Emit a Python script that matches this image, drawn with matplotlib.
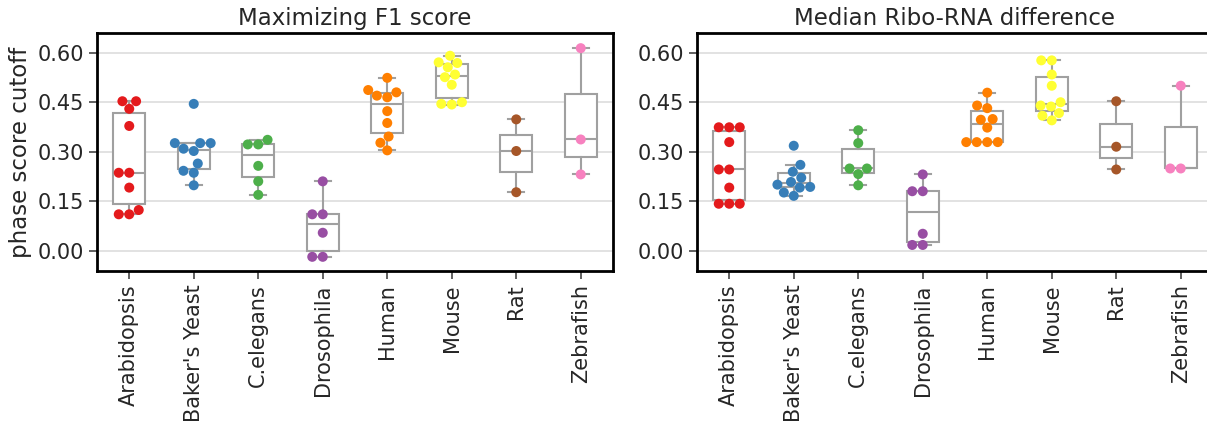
import numpy as np
import pandas as pd
import matplotlib
matplotlib.use("Agg")
import matplotlib.pyplot as plt
import seaborn as sns

species = ["Arabidopsis", "Baker's Yeast", "C.elegans", "Drosophila",
           "Human", "Mouse", "Rat", "Zebrafish"]
palette = ["#e41a1c", "#377eb8", "#4daf4a", "#984ea3",
           "#ff7f00", "#ffff33", "#a65628", "#f781bf"]

# cutoffs maximizing F1 score
f1_arabidopsis = [0.453, 0.453, 0.430, 0.378, 0.236, 0.236, 0.191, 0.123, 0.110, 0.110]
f1_yeast = [0.445, 0.326, 0.326, 0.326, 0.309, 0.302, 0.264, 0.242, 0.236, 0.198]
f1_celegans = [0.336, 0.322, 0.322, 0.257, 0.210, 0.169]
f1_drosophila = [0.210, 0.110, 0.110, 0.054, -0.019, -0.019]
f1_human = [0.524, 0.487, 0.480, 0.470, 0.465, 0.423, 0.387, 0.346, 0.327, 0.304]
f1_mouse = [0.591, 0.571, 0.569, 0.556, 0.534, 0.526, 0.503, 0.450, 0.445, 0.443]
f1_rat = [0.398, 0.302, 0.177]
f1_zebrafish = [0.614, 0.337, 0.231]

# cutoffs from median Ribo-RNA difference
med_arabidopsis = [0.374, 0.374, 0.374, 0.329, 0.246, 0.246, 0.191, 0.142, 0.142, 0.142]
med_yeast = [0.318, 0.260, 0.239, 0.221, 0.208, 0.200, 0.193, 0.191, 0.176, 0.166]
med_celegans = [0.365, 0.326, 0.249, 0.249, 0.232, 0.198]
med_drosophila = [0.231, 0.180, 0.180, 0.051, 0.017, 0.017]
med_human = [0.479, 0.440, 0.432, 0.399, 0.397, 0.373, 0.329, 0.329, 0.329, 0.329]
med_mouse = [0.577, 0.577, 0.534, 0.500, 0.450, 0.440, 0.437, 0.417, 0.409, 0.395]
med_rat = [0.453, 0.315, 0.246]
med_zebrafish = [0.500, 0.249, 0.249]

f1_data = [f1_arabidopsis, f1_yeast, f1_celegans, f1_drosophila,
           f1_human, f1_mouse, f1_rat, f1_zebrafish]
med_data = [med_arabidopsis, med_yeast, med_celegans, med_drosophila,
            med_human, med_mouse, med_rat, med_zebrafish]

plt.rcParams['font.family'] = ['DejaVu Sans']
text_col = '.15'

fig = plt.figure(figsize=(12.07, 4.34), dpi=100)
ax1 = fig.add_axes([97 / 1207, 163 / 434, 516 / 1207, 238 / 434])
ax2 = fig.add_axes([697 / 1207, 163 / 434, 516 / 1207, 238 / 434])


def draw_panel(ax, data, title):
    ax.boxplot(data, positions=range(len(species)), widths=0.5,
               patch_artist=True, showfliers=False, whis=1.5,
               boxprops=dict(facecolor='white', edgecolor='#a0a0a0', linewidth=1.5),
               medianprops=dict(color='#a0a0a0', linewidth=1.5),
               whiskerprops=dict(color='#a0a0a0', linewidth=1.5),
               capprops=dict(color='#a0a0a0', linewidth=1.5),
               zorder=2)
    df = pd.DataFrame({
        'species': [s for s, v in zip(species, data) for _ in v],
        'cutoff': [x for v in data for x in v],
    })
    sns.swarmplot(data=df, x='species', y='cutoff', hue='species',
                  order=species, hue_order=species, palette=palette,
                  size=7.2, ax=ax, legend=False, zorder=3)
    ax.set_xlim(-0.5, 7.5)
    ax.set_ylim(-0.062, 0.66)
    ax.set_yticks([0.0, 0.15, 0.30, 0.45, 0.60])
    ax.set_yticklabels(['0.00', '0.15', '0.30', '0.45', '0.60'])
    ax.set_xticks(range(len(species)))
    ax.set_xticklabels(species, rotation=90)
    ax.yaxis.grid(True, color='#dddddd', linewidth=1.2, zorder=0)
    ax.set_axisbelow(True)
    ax.xaxis.grid(False)
    for sp in ax.spines.values():
        sp.set_linewidth(2)
        sp.set_color('black')
    ax.tick_params(axis='both', labelsize=15, length=6, width=1.25,
                   color='.3', labelcolor=text_col)
    ax.set_xlabel('')
    ax.set_ylabel('')
    ax.set_title(title, fontsize=16.5, color=text_col)


draw_panel(ax1, f1_data, 'Maximizing F1 score')
draw_panel(ax2, med_data, 'Median Ribo-RNA difference')
ax1.set_ylabel('phase score cutoff', fontsize=16.5, color=text_col, labelpad=4)

fig.savefig('out.png', dpi=100)
